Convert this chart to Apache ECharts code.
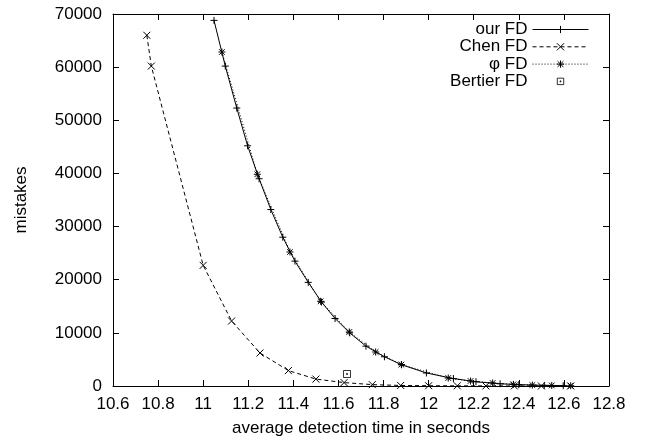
<!DOCTYPE html>
<html>
<head>
<meta charset="utf-8">
<script src="https://cdn.jsdelivr.net/npm/echarts@6/dist/echarts.min.js"></script>
<style>
  html, body { margin: 0; padding: 0; background: #fff; }
  #chart { width: 646px; height: 439px; }
</style>
</head>
<body>
<div id="chart"></div>
<script>
// values
const ourX = [11.048, 11.098, 11.149, 11.197, 11.248, 11.30, 11.353, 11.407, 11.466, 11.525, 11.585, 11.65, 11.722, 11.804, 11.88, 11.99, 12.11, 12.21, 12.317, 12.40, 12.513, 12.597]
const ourY = [68800, 60200, 52300, 45200, 39000, 33200, 28000, 23500, 19500, 15800, 12700, 10000, 7500, 5500, 4000, 2450, 1400, 800, 420, 250, 120, 60]

const chenX = [10.75, 10.77, 11.0, 11.126, 11.252, 11.378, 11.50, 11.625, 11.75, 11.876, 12.0, 12.127, 12.254, 12.38, 12.5, 12.63]
const chenY = [66000, 60200, 22700, 12230, 6210, 2900, 1300, 640, 260, 100, 50, 30, 20, 10, 5, 3]

const phiX = [11.083, 11.24, 11.385, 11.521, 11.648, 11.765, 11.879, 12.087, 12.186, 12.284, 12.376, 12.46, 12.546, 12.63]
const phiY = [62850, 39840, 25220, 15940, 10160, 6400, 4030, 1500, 940, 565, 320, 180, 100, 50]

const bertierX = [11.638]
const bertierY = [2260]

const seriesNames = ['our FD', 'Chen FD', 'φ FD', 'Bertier FD']

const plusPath = 'path://M0,-1L0,1M-1,0L1,0'
const crossPath = 'path://M-1,-1L1,1M-1,1L1,-1'
const starPath = 'path://M0,-1L0,1M-1,0L1,0M-0.8,-0.8L0.8,0.8M-0.8,0.8L0.8,-0.8'
const boxPath = 'path://M-1,-1L1,-1L1,1L-1,1ZM-0.15,-0.15L0.15,-0.15L0.15,0.15L-0.15,0.15Z'
// same box, padded so the legend icon stays small
const boxIconPath = 'path://M-1.4,-1.4M1.4,1.4M-1,-1L1,-1L1,1L-1,1ZM-0.15,-0.15L0.15,-0.15L0.15,0.15L-0.15,0.15Z'

const font = 'Liberation Sans, Arial, sans-serif'
const fontSize = 17

function pairs (xs, ys) {
  return xs.map((x, i) => [x, ys[i]])
}

function lineSerie (name, xs, ys, symbol, dash) {
  return {
    name: name,
    type: 'line',
    data: pairs(xs, ys),
    symbol: symbol,
    symbolSize: 7,
    showAllSymbol: true,
    smooth: false,
    color: '#000',
    lineStyle: { color: '#000', width: 1, type: dash },
    itemStyle: { color: 'transparent', borderColor: '#000', borderWidth: 1 },
    emphasis: { disabled: true },
    z: 3
  }
}

const chart = echarts.init(document.getElementById('chart'))

const xAxisBase = {
  type: 'value',
  min: 10.6,
  max: 12.8,
  interval: 0.2,
  axisLine: { show: true, onZero: false, lineStyle: { color: '#000', width: 1 } },
  axisTick: { show: true, inside: true, length: 6, lineStyle: { color: '#000' } },
  splitLine: { show: false }
}

const yAxisBase = {
  type: 'value',
  min: 0,
  max: 70000,
  interval: 10000,
  axisLine: { show: true, onZero: false, lineStyle: { color: '#000', width: 1 } },
  axisTick: { show: true, inside: true, length: 6, lineStyle: { color: '#000' } },
  splitLine: { show: false }
}

chart.setOption({
  animation: false,
  backgroundColor: '#fff',
  textStyle: { fontFamily: font },
  grid: { left: 113, right: 37, top: 14, bottom: 53, outerBoundsMode: 'none', containLabel: false },
  legend: {
    orient: 'vertical',
    right: 52,
    top: 16,
    align: 'right',
    itemWidth: 56,
    itemHeight: 9,
    itemGap: 0.3,
    textStyle: { fontFamily: font, fontSize: fontSize, lineHeight: 14, color: '#000' },
    itemStyle: { color: 'transparent', borderColor: '#000', borderWidth: 1 },
    lineStyle: { color: '#000', width: 1 },
    data: [
      { name: seriesNames[0] },
      { name: seriesNames[1] },
      { name: seriesNames[2] },
      { name: seriesNames[3], icon: boxIconPath }
    ]
  },
  xAxis: [
    Object.assign({}, xAxisBase, {
      position: 'bottom',
      name: 'average detection time in seconds',
      nameLocation: 'middle',
      nameGap: 34,
      nameTextStyle: { fontFamily: font, fontSize: fontSize, color: '#000' },
      axisLabel: { margin: 10, fontFamily: font, fontSize: fontSize, color: '#000' }
    }),
    Object.assign({}, xAxisBase, {
      position: 'top',
      axisLabel: { show: false }
    })
  ],
  yAxis: [
    Object.assign({}, yAxisBase, {
      position: 'left',
      name: 'mistakes',
      nameLocation: 'middle',
      nameGap: 83,
      nameTextStyle: { fontFamily: font, fontSize: fontSize, color: '#000' },
      axisLabel: { margin: 11, fontFamily: font, fontSize: fontSize, color: '#000', formatter: v => String(v) }
    }),
    Object.assign({}, yAxisBase, {
      position: 'right',
      axisLabel: { show: false }
    })
  ],
  series: [
    lineSerie(seriesNames[0], ourX, ourY, plusPath, 'solid'),
    lineSerie(seriesNames[1], chenX, chenY, crossPath, [4, 3]),
    lineSerie(seriesNames[2], phiX, phiY, starPath, [1, 2]),
    {
      name: seriesNames[3],
      type: 'scatter',
      data: pairs(bertierX, bertierY),
      symbol: boxPath,
      symbolSize: 7,
      color: '#000',
      itemStyle: { color: 'transparent', borderColor: '#000', borderWidth: 1 },
      emphasis: { disabled: true }
    }
  ]
})
</script>
</body>
</html>
